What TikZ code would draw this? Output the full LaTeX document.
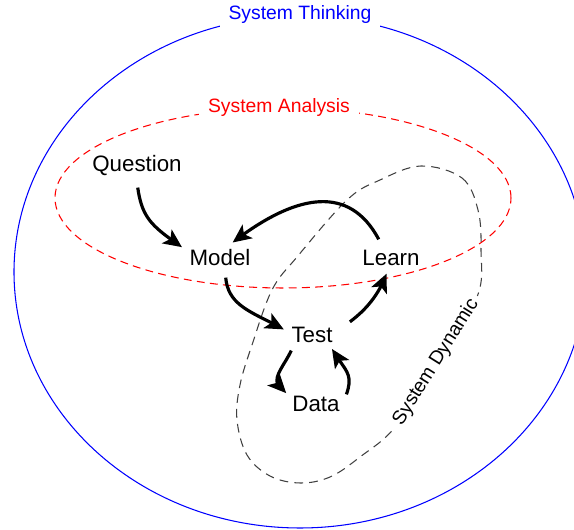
\documentclass[tikz,border=0pt]{standalone}
\usepackage{fontspec}
\setmainfont{Liberation Sans}
\usetikzlibrary{arrows.meta, bending}

\begin{document}
\begin{tikzpicture}[
			conceptnode/.style={font=\fontsize{12.7}{15}\selectfont},
			regionlabel/.style={fill=white, inner sep=5pt, font=\fontsize{11}{13}\selectfont},
			flowarrow/.style={-{Stealth[length=10.5pt, width=9.5pt, inset=2.5pt, flex]}, line width=1.8pt, shorten <=3pt, shorten >=1pt}
		]
		\useasboundingbox (0,0) rectangle (11.48,10.6);

		\draw[blue, line width=0.6pt] (6.0,5.16) ellipse (5.72 and 5.12);
		\draw[red, line width=0.6pt, dash pattern=on 4.5pt off 3pt] (5.66,6.64) ellipse (4.56 and 1.8);
		\draw[black!75, line width=0.6pt, dash pattern=on 5pt off 3.5pt] plot[smooth cycle, tension=0.6] coordinates {
			(8.42,7.28) (9.24,7.04) (9.56,6.40) (9.62,5.60) (9.54,4.66) (8.72,3.36)
			(7.92,2.08) (7.20,1.46) (6.60,1.06) (6.00,0.94) (5.40,1.08) (4.94,1.50)
			(4.74,2.20) (4.80,2.90) (5.04,3.70) (5.44,4.80) (5.94,5.46) (6.94,6.60) (7.60,7.00)};

		\node[regionlabel, text=blue] (thinking) at (6.0,10.3) {System Thinking};
		\node[regionlabel, text=red] (analysis) at (5.58,8.44) {System Analysis};
		\node[regionlabel, rotate=58, inner sep=3pt] (dynamic) at (8.72,3.36) {System Dynamic};

		\node[conceptnode] (question) at (2.74,7.28) {Question};
		\node[conceptnode] (model) at (4.40,5.44) {Model};
		\node[conceptnode] (learn) at (7.82,5.44) {Learn};
		\node[conceptnode] (test) at (6.24,3.90) {Test};
		\node[conceptnode] (data) at (6.32,2.52) {Data};

		\draw[flowarrow] (question.south) to[out=-82, in=145, looseness=1.2] (model.165);
		\draw[flowarrow] (learn.125) to[out=118, in=38, looseness=1.25] (model.52);
		\draw[flowarrow] (model.-70) to[out=-85, in=150, looseness=1.1] (test.170);
		\draw[flowarrow, shorten <=8pt] (test.10) to[out=37, in=-110] (learn.-105);
		\draw[flowarrow, shorten <=1pt, shorten >=0pt] (test.-145) to[out=-115, in=150, looseness=1.3] (data.160);
		\draw[flowarrow, shorten <=1pt, shorten >=0pt] (data.15) to[out=70, in=-60, looseness=1.3] (test.-35);

	\end{tikzpicture}
\end{document}
